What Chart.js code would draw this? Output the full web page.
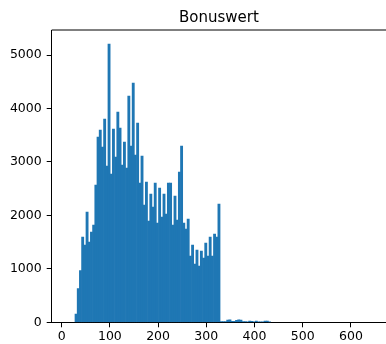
<!DOCTYPE html>
<html>
<head>
<meta charset="utf-8">
<script src="https://cdn.jsdelivr.net/npm/chart.js@4/dist/chart.umd.min.js"></script>
<style>
  html, body { margin: 0; padding: 0; background: #fff; }
  #wrap { width: 386px; height: 344px; }
</style>
</head>
<body>
<div id="wrap"><canvas id="c" width="386" height="344"></canvas></div>
<script>
// ---- data ----
const chartTitle = "Bonuswert";

// left edges of the histogram bins
const binEdges = [
  27.60, 32.16, 36.72, 41.28, 45.84, 50.40, 54.96, 59.52, 64.08, 68.64,
  73.20, 77.76, 82.32, 86.88, 91.44, 96.00, 100.56, 105.12, 109.68, 114.24,
  118.80, 123.36, 127.92, 132.48, 137.04, 141.60, 146.16, 150.72, 155.28, 159.84,
  164.40, 168.96, 173.52, 178.08, 182.64, 187.20, 191.76, 196.32, 200.88, 205.44,
  210.00, 214.56, 219.12, 223.68, 228.24, 232.80, 237.36, 241.92, 246.48, 251.04,
  255.60, 260.16, 264.72, 269.28, 273.84, 278.40, 282.96, 287.52, 292.08, 296.64,
  301.20, 305.76, 310.32, 314.88, 319.44, 324.00, 328.56, 333.12, 337.68, 342.24,
  346.80, 351.36, 355.92, 360.48, 365.04, 369.60, 374.16, 378.72, 383.28, 387.84,
  392.40, 396.96, 401.52, 406.08, 410.64, 415.20, 419.76, 424.32, 428.88
];
const binWidth = 4.56;

// counts per bin
const counts = [
  155, 629, 966, 1596, 1446, 2063, 1502, 1689, 1820, 2568,
  3466, 3597, 3279, 3803, 2924, 5206, 2774, 3616, 3092, 3934,
  3635, 2943, 3373, 2887, 4233, 3298, 4476, 3130, 3728, 2606,
  3111, 2194, 2624, 1895, 2400, 2157, 2606, 1857, 2512, 1970,
  2400, 2026, 2606, 2606, 1820, 2362, 1914, 2812, 3298, 1857,
  1745, 1932, 1240, 1446, 1091, 1352, 1053, 1334, 1203, 1483,
  1240, 1596, 1240, 1652, 1596, 2213, 15, 15, 15, 40,
  45, 20, 20, 35, 45, 40, 15, 15, 10, 25,
  20, 10, 25, 5, 5, 5, 25, 25, 3
];

const xTickValues = [0, 100, 200, 300, 400, 500, 600];
const yTickValues = [0, 1000, 2000, 3000, 4000, 5000];

// ---- chart ----
const points = binEdges.map((e, i) => ({ x: e + binWidth / 2, y: counts[i] }));

const spinePlugin = {
  id: 'spines',
  afterDraw(chart) {
    const { ctx, chartArea } = chart;
    ctx.save();
    ctx.strokeStyle = '#000';
    ctx.lineWidth = 1;
    ctx.beginPath();
    ctx.moveTo(chartArea.left, chartArea.top);
    ctx.lineTo(chartArea.right, chartArea.top);
    ctx.stroke();
    ctx.restore();
  }
};

const tickFont = { family: 'DejaVu Sans', size: 12.5 };
const plainLabel = (v) => String(v);

new Chart(document.getElementById('c'), {
  type: 'bar',
  data: {
    datasets: [{
      data: points,
      backgroundColor: '#1f77b4',
      borderWidth: 0,
      barPercentage: 1,
      categoryPercentage: 1
    }]
  },
  options: {
    responsive: false,
    animation: false,
    devicePixelRatio: 1,
    layout: { padding: 0 },
    plugins: {
      legend: { display: false },
      tooltip: { enabled: false },
      title: {
        display: true,
        text: chartTitle,
        fullSize: false,
        color: '#000',
        font: { family: 'DejaVu Sans', size: 15, weight: 'normal' },
        padding: { top: 9, bottom: 3 }
      }
    },
    scales: {
      x: {
        type: 'linear',
        min: -20.7,
        max: 672.8,
        offset: false,
        afterBuildTicks(scale) { scale.ticks = xTickValues.map(v => ({ value: v })); },
        afterFit(scale) { scale.height = 21.7; },
        ticks: { font: tickFont, color: '#000', padding: 2, maxRotation: 0, autoSkip: false, callback: plainLabel },
        grid: { offset: false, drawOnChartArea: false, drawTicks: true, tickLength: 5, color: '#000', lineWidth: 1 },
        border: { display: true, color: '#000', width: 1 }
      },
      y: {
        type: 'linear',
        min: 0,
        max: 5468,
        afterBuildTicks(scale) { scale.ticks = yTickValues.map(v => ({ value: v })); },
        afterFit(scale) { scale.width = 51.7; },
        ticks: { font: tickFont, color: '#000', padding: 5, autoSkip: false, callback: plainLabel },
        grid: { offset: false, drawOnChartArea: false, drawTicks: true, tickLength: 5, color: '#000', lineWidth: 1 },
        border: { display: true, color: '#000', width: 1 }
      }
    }
  },
  plugins: [spinePlugin]
});
</script>
</body>
</html>
